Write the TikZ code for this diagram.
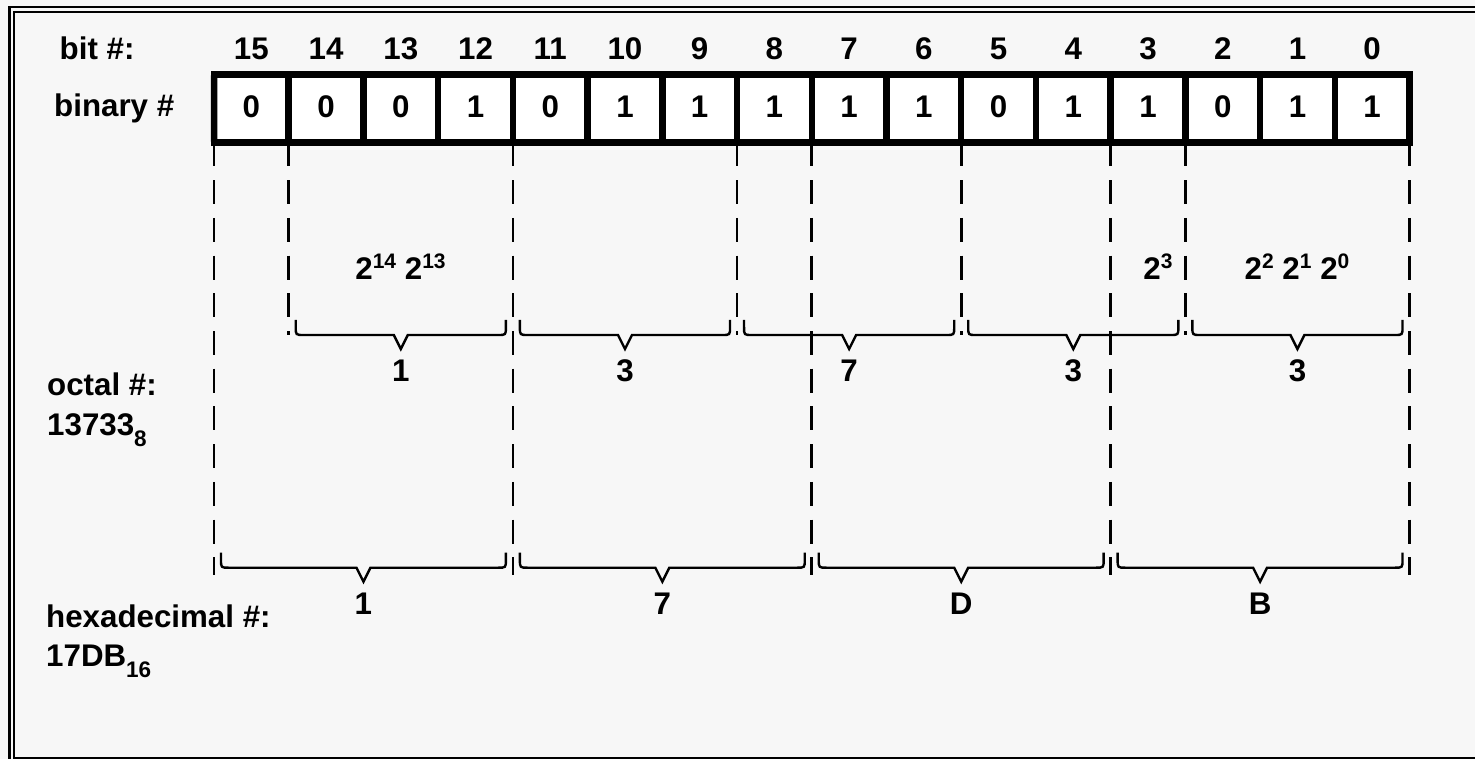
\documentclass[tikz,border=0pt]{standalone}
\usepackage{fontspec}
\setmainfont{Liberation Sans Bold}
\definecolor{bgc}{HTML}{F7F7F7}
\newcommand\psup[1]{\raisebox{11.5pt}{\fontsize{21}{21}\selectfont #1}}
\newcommand\psub[1]{\raisebox{-11pt}{\fontsize{22.5}{22}\selectfont #1}}
\newcommand\mybrace[3]{% left x, right x, horizontal y
  \draw[bracel] ({#1},{#3-15}) -- ({#1},{#3-8}) .. controls ({#1},{#3}) .. ({#1+8},{#3})
    -- ({(#1+#2)/2-7},{#3}) -- ({(#1+#2)/2},{#3+14}) -- ({(#1+#2)/2+7},{#3})
    -- ({#2-8},{#3}) .. controls ({#2},{#3}) .. ({#2},{#3-8}) -- ({#2},{#3-15});}
\begin{document}
\begin{tikzpicture}[x=1pt,y=-1pt,
  font=\fontsize{31.3}{36}\selectfont,
  txt/.style={inner sep=0pt, anchor=base},
  ltxt/.style={inner sep=0pt, anchor=base west, align=left},
  cell/.style={draw, fill=white, line width=6.5pt, minimum width=74.72pt, minimum height=68pt, inner sep=0pt},
  guide/.style={line width=2.6pt, dash pattern=on 24pt off 13.7pt},
  bracel/.style={line width=2.4pt, line join=miter}]
\useasboundingbox (0,0) rectangle (1475,759);
\clip (0,0) rectangle (1475,759);
\fill[bgc] (0,0) rectangle (1475,759);
% frame
\draw[line width=2.5pt] (9.5,6.8) rectangle (1500,790);
\draw[line width=1.7pt] (14.2,11.8) rectangle (1495,758);
% boundaries
\foreach \k in {0,...,16} {
  \coordinate (t\k) at ({214+74.72*\k},142.5);
  \coordinate (o\k) at ({214+74.72*\k},335);
  \coordinate (h\k) at ({214+74.72*\k},575);
}
% dashed guides
\foreach \k in {1,7,10,13} { \draw[guide] (t\k) -- (o\k); }
\foreach \k in {0,4,8,12,16} { \draw[guide] (t\k) -- (h\k); }
% register
\foreach \v [count=\j from 0] in {0,0,0,1,0,1,1,1,1,1,0,1,1,0,1,1} {
  \pgfmathtruncatemacro\b{15-\j}
  \node[cell] (c\b) at ({214+74.72*(\j+0.5)},108.5) {};
  \node[txt] (d\b) at ({214+74.72*(\j+0.5)},117.3) {\v};
  \node[txt] (n\b) at ({214+74.72*(\j+0.5)},59.3) {\b};
}
\draw[line width=6.5pt, rounded corners=2pt] (214,74.5) rectangle (1409.5,142.5);
% left labels
\node[ltxt] (lbit) at (59.5,59.3) {bit \#:};
\node[ltxt] (lbin) at (54,117) {binary \#};
\node[ltxt] (loct) at (47,395) {octal \#:};
\node[ltxt] (loctv) at (47,435) {13733\psub{8}};
\node[ltxt] (lhex) at (46,627.7) {hexadecimal \#:};
\node[ltxt] (lhexv) at (46,666.7) {17DB\psub{16}};
% powers
\node[txt] (p1) at (400.5,280) {2\psup{14} 2\psup{13}};
\node[txt] (p2) at (1158,280) {2\psup{3}};
\node[txt] (p3) at (1297,280) {2\psup{2} 2\psup{1} 2\psup{0}};
% octal braces
\foreach \a/\b/\v in {1/4/1,4/7/3,7/10/7,10/13/3,13/16/3} {
  \pgfmathsetmacro\xl{214+74.72*\a+7}
  \pgfmathsetmacro\xr{214+74.72*\b-7}
  \mybrace{\xl}{\xr}{335}
  \node[txt] (oct\a) at ({(\xl+\xr)/2},381) {\v};
}
% hex braces
\foreach \a/\b/\v in {0/4/1,4/8/7,8/12/D,12/16/B} {
  \pgfmathsetmacro\xl{214+74.72*\a+7}
  \pgfmathsetmacro\xr{214+74.72*\b-7}
  \mybrace{\xl}{\xr}{567.7}
  \node[txt] (hex\a) at ({(\xl+\xr)/2},614) {\v};
}
\end{tikzpicture}
\end{document}
